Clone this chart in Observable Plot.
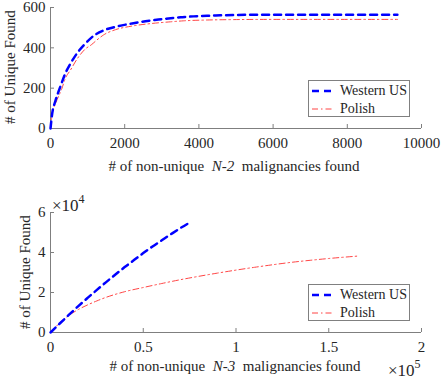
<!DOCTYPE html>
<html>
<head>
<meta charset="utf-8">
<script src="https://cdn.jsdelivr.net/npm/d3@7"></script>
<script src="https://cdn.jsdelivr.net/npm/@observablehq/plot@0.6"></script>
<style>
  html, body { margin: 0; padding: 0; background: #fff; }
  #root { position: relative; width: 443px; height: 379px; font-family: "Liberation Serif", "Times New Roman", serif; color: #262626; }
  #root > svg { display: block; position: absolute; left: 0; }
  #root svg text { font-family: "Liberation Serif", "Times New Roman", serif; }
  .lbl { position: absolute; white-space: nowrap; font-size: 15px; transform: translate(-50%, -50%); line-height: 1; }
  .ylbl { transform: translate(-50%, -50%) rotate(-90deg); }
  .legend { position: absolute; border: 1px solid #808080; background: #fff; font-size: 14px; box-sizing: border-box; }
  .legend .row { position: absolute; left: 0; height: 18px; display: flex; align-items: center; }
  .legend svg { display: block; margin-left: 3px; margin-right: 7px; }
  .exp { position: absolute; font-size: 17px; white-space: nowrap; line-height: 1; }
  .exp sup { font-size: 12px; vertical-align: 8px; line-height: 0; }
</style>
</head>
<body>
<div id="root"></div>
<script>
// ---- Data: top panel (N-2) ----
const n2WesternX = [0, 45, 135, 270, 404, 539, 736, 943, 1167, 1482, 1842, 2200, 2560, 2910, 3180, 3550, 3855, 4220, 4580, 4930, 5500, 6500, 7500, 8500, 9350];
const n2WesternY = [0, 73, 138, 210, 275, 322, 378, 422, 460, 490, 508, 521, 532, 540, 546, 552, 556, 559, 561, 563, 564, 564, 564, 564, 564];
const n2PolishX = [0, 45, 150, 300, 404, 539, 718, 943, 1100, 1258, 1430, 1752, 2200, 2740, 3234, 3593, 4222, 4930, 6000, 7000, 8000, 9350];
const n2PolishY = [0, 70, 130, 195, 250, 290, 345, 395, 415, 440, 464, 490, 508, 521, 529, 534, 538, 540, 541, 541, 541, 541];

// ---- Data: bottom panel (N-3) ----
const n3WesternX = [0, 5000, 10000, 15000, 20000, 25000, 30000, 35000, 40000, 45000, 50000, 55000, 60000, 65000, 70000, 75500];
const n3WesternY = [0, 4500, 8900, 13200, 17300, 21300, 25200, 29000, 32700, 36200, 39700, 43000, 46100, 49200, 52200, 55200];
const n3PolishX = [0, 5000, 10000, 15000, 20000, 25000, 30000, 35000, 40000, 50000, 60000, 70000, 80000, 90000, 100000, 110000, 120000, 130000, 140000, 150000, 165500];
const n3PolishY = [0, 4800, 8600, 11500, 13800, 15800, 17600, 19100, 20400, 22500, 24500, 26400, 28100, 29700, 31200, 32600, 33900, 35100, 36100, 37000, 38200];

// ---- Ticks ----
const topXTicks = [0, 2000, 4000, 6000, 8000, 10000];
const topYTicks = [0, 200, 400, 600];
const botXTicks = [0, 50000, 100000, 150000, 200000];
const botYTicks = [0, 20000, 40000, 60000];
const seriesNames = ["Western US", "Polish"];

const blue = "#0000ff";
const red = "#ff4545";
const axisColor = "#7f7f7f";
const textColor = "#262626";

function toRows(xs, ys) { return xs.map((x, i) => ({x, y: ys[i]})); }

function panel({height, marginTop, marginBottom, xDomain, yDomain, xTicks, yTicks, xFmt, yFmt, western, polish}) {
  return Plot.plot({
    width: 443,
    height,
    marginLeft: 50,
    marginRight: 22,
    marginTop,
    marginBottom,
    style: {fontFamily: '"Liberation Serif", "Times New Roman", serif', fontSize: "15px", color: textColor, background: "transparent", overflow: "visible"},
    x: {domain: xDomain, ticks: xTicks},
    y: {domain: yDomain, ticks: yTicks},
    marks: [
      Plot.ruleY([yDomain[0]], {stroke: axisColor, strokeWidth: 1}),
      Plot.ruleX([xDomain[0]], {stroke: axisColor, strokeWidth: 1}),
      Plot.axisX(xTicks, {tickSize: -4, tickPadding: 13, stroke: axisColor, fill: textColor, tickFormat: xFmt, label: null}),
      Plot.axisY(yTicks, {tickSize: -4, tickPadding: 9, stroke: axisColor, fill: textColor, tickFormat: yFmt, label: null}),
      Plot.line(polish, {x: "x", y: "y", stroke: red, strokeWidth: 1, strokeDasharray: "6,3,1.5,3", curve: "monotone-x"}),
      Plot.line(western, {x: "x", y: "y", stroke: blue, strokeWidth: 2.5, strokeDasharray: "7,5", curve: "monotone-x"})
    ]
  });
}

const root = document.getElementById("root");

const topPanel = panel({
  height: 190, marginTop: 7, marginBottom: 62,
  xDomain: [0, 10000], yDomain: [0, 600],
  xTicks: topXTicks, yTicks: topYTicks,
  xFmt: d => String(d), yFmt: d => String(d),
  western: toRows(n2WesternX, n2WesternY), polish: toRows(n2PolishX, n2PolishY)
});
topPanel.style.top = "0px";
root.appendChild(topPanel);

const botPanel = panel({
  height: 189, marginTop: 22, marginBottom: 47,
  xDomain: [0, 200000], yDomain: [0, 60000],
  xTicks: botXTicks, yTicks: botYTicks,
  xFmt: d => String(d / 1e5), yFmt: d => String(d / 1e4),
  western: toRows(n3WesternX, n3WesternY), polish: toRows(n3PolishX, n3PolishY)
});
botPanel.style.top = "190px";
root.appendChild(botPanel);

function addLabel(html, cx, cy, cls) {
  const d = document.createElement("div");
  d.className = "lbl" + (cls ? " " + cls : "");
  d.innerHTML = html;
  d.style.left = cx + "px";
  d.style.top = cy + "px";
  root.appendChild(d);
}
addLabel("# of Unique Found", 10, 67, "ylbl");
addLabel("# of Unique Found", 25, 272, "ylbl");
addLabel("# of non-unique&nbsp; <i>N-2</i>&nbsp; malignancies found", 234, 166);
addLabel("# of non-unique&nbsp; <i>N-3</i>&nbsp; malignancies found", 235, 366);

function addExp(sup, left, topPx) {
  const d = document.createElement("div");
  d.className = "exp";
  d.innerHTML = "×10<sup>" + sup + "</sup>";
  d.style.left = left + "px";
  d.style.top = topPx + "px";
  root.appendChild(d);
}
addExp("4", 52, 197);
addExp("5", 388, 362);

function addLegend(left, topPx) {
  const lg = document.createElement("div");
  lg.className = "legend";
  lg.style.left = left + "px";
  lg.style.top = topPx + "px";
  lg.style.width = "102px";
  lg.style.height = "37px";
  const styles = [
    {stroke: blue, w: 2.5, dash: "7,5"},
    {stroke: red, w: 1, dash: "6,3,1.5,3"}
  ];
  seriesNames.forEach((name, i) => {
    const row = document.createElement("div");
    row.className = "row";
    row.style.top = (1 + i * 17.5) + "px";
    const s = styles[i];
    row.innerHTML = `<svg width="21" height="10"><line x1="0" y1="5" x2="21" y2="5" stroke="${s.stroke}" stroke-width="${s.w}" stroke-dasharray="${s.dash}"/></svg><span>${name}</span>`;
    lg.appendChild(row);
  });
  root.appendChild(lg);
}
addLegend(308, 80);
addLegend(308, 284);
</script>
</body>
</html>
